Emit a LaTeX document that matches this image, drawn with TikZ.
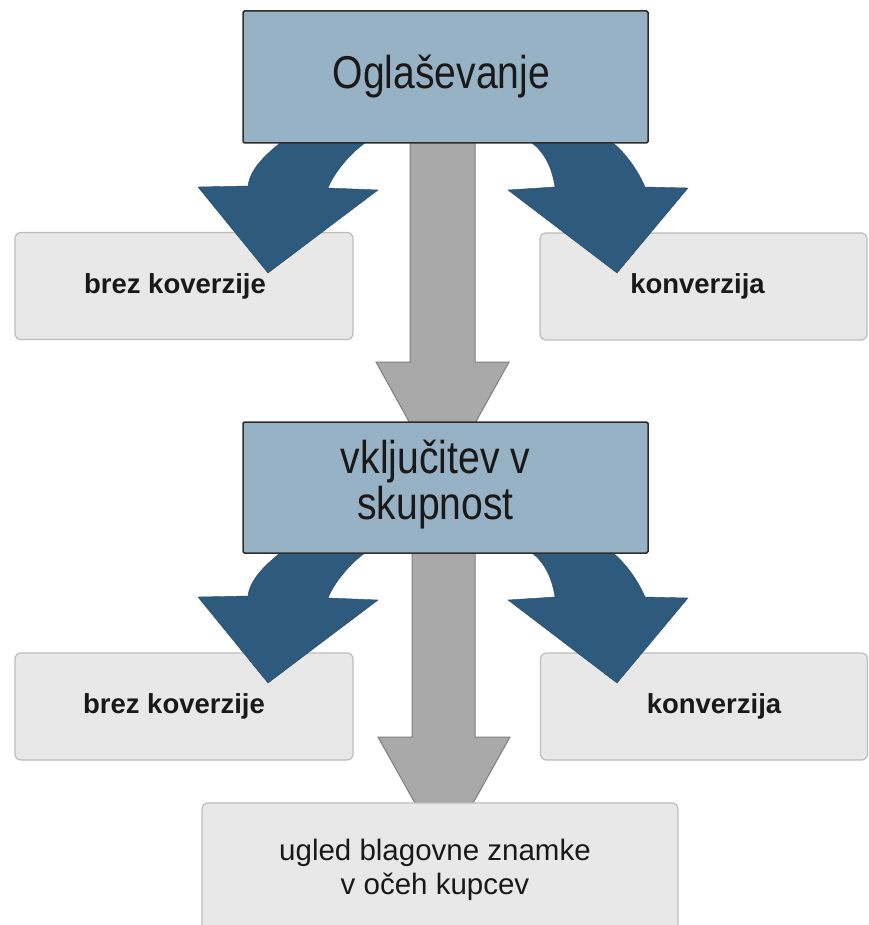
\documentclass[tikz,border=0pt]{standalone}
\usepackage{fontspec}
\setmainfont{Liberation Sans}
\newfontfamily\condfont{Liberation Sans}[FakeStretch=0.85]
\definecolor{topfill}{RGB}{151,178,196}
\definecolor{topline}{RGB}{45,45,45}
\definecolor{sidefill}{RGB}{232,232,232}
\definecolor{sideline}{RGB}{188,188,188}
\definecolor{bluearrow}{RGB}{46,90,126}
\definecolor{greyfill}{RGB}{169,169,169}
\definecolor{greyline}{RGB}{125,125,125}
\definecolor{textc}{RGB}{25,25,25}
\begin{document}
\begin{tikzpicture}[x=1pt,y=-1pt,
  sidebox/.style={draw=sideline, fill=sidefill, rounded corners=6pt, line width=1.2pt,
    minimum width=338pt, minimum height=107pt, inner sep=0pt},
  sidetext/.style={inner sep=0pt, font=\fontsize{27.5}{30}\selectfont\bfseries, text=textc},
  mainbox/.style={draw=topline, fill=topfill, rounded corners=1.5pt, line width=1.5pt,
    minimum width=405pt, minimum height=132pt, inner sep=0pt},
  maintext/.style={inner sep=0pt, align=center, font=\condfont\fontsize{46}{46}\selectfont, text=textc},
  endbox/.style={draw=sideline, fill=sidefill, rounded corners=6pt, line width=1.2pt,
    minimum width=476pt, minimum height=134pt, inner sep=0pt},
  endtext/.style={inner sep=0pt, align=center, font=\fontsize{29.5}{34}\selectfont, text=textc},
  bluearr/.style={fill=bluearrow, draw=bluearrow!80!black, line width=0.4pt},
  greyarr/.style={fill=greyfill, draw=greyline, line width=1pt}
]
\useasboundingbox (0,0) rectangle (868,925);

% side boxes
\node[sidebox] (L1) at (184,286) {};
\node[sidebox, minimum width=327pt] (R1) at (703.5,286.5) {};
\node[sidebox] (L2) at (184,706.5) {};
\node[sidebox, minimum width=327pt] (R2) at (704,706.5) {};
\node[sidetext, xshift=-9pt] (L1t) at (L1.center) {brez koverzije};
\node[sidetext, xshift=-6pt] (R1t) at (R1.center) {konverzija};
\node[sidetext, xshift=-10pt] (L2t) at (L2.center) {brez koverzije};
\node[sidetext, xshift=10pt] (R2t) at (R2.center) {konverzija};

% curved blue arrows, row 1 and row 2
\foreach \dy in {0,410}{
\begin{scope}[shift={(0,\dy)}]
\path[bluearr] (280,138) -- (280,143) .. controls (268,153) and (250,168) .. (248,186)
  -- (198,187) -- (268,273) -- (378,190) -- (328,188)
  .. controls (333,175) and (348,155) .. (365,143) -- (365,138) -- cycle;
\path[bluearr] (532,138) -- (532,143) .. controls (545,153) and (552,168) .. (555,187)
  -- (508,190) -- (617,273) -- (688,188) -- (645,187)
  .. controls (640,175) and (628,155) .. (613,143) -- (613,138) -- cycle;
\end{scope}
}

% grey straight arrows
\path[greyarr] (410,138) -- (410,362) -- (376,362) -- (442.5,482) -- (509,362) -- (475,362) -- (475,138) -- cycle;
\path[greyarr] (412,548) -- (412,737) -- (378,737) -- (444,855) -- (510,737) -- (475,737) -- (475,548) -- cycle;

% main boxes
\node[mainbox] (top) at (445.5,77) {};
\node[maintext, xshift=-4pt] (topt) at (top.center) {Oglaševanje};
\node[mainbox, minimum height=131pt] (mid) at (445.5,487.5) {};
\node[maintext, xshift=-10pt, yshift=3pt] (midt) at (mid.center) {vključitev v\\skupnost};
\node[endbox] (end) at (440,870) {};
\node[endtext, xshift=-5pt] (endt) at (end.center) {ugled blagovne znamke\\v očeh kupcev};
\end{tikzpicture}
\end{document}
